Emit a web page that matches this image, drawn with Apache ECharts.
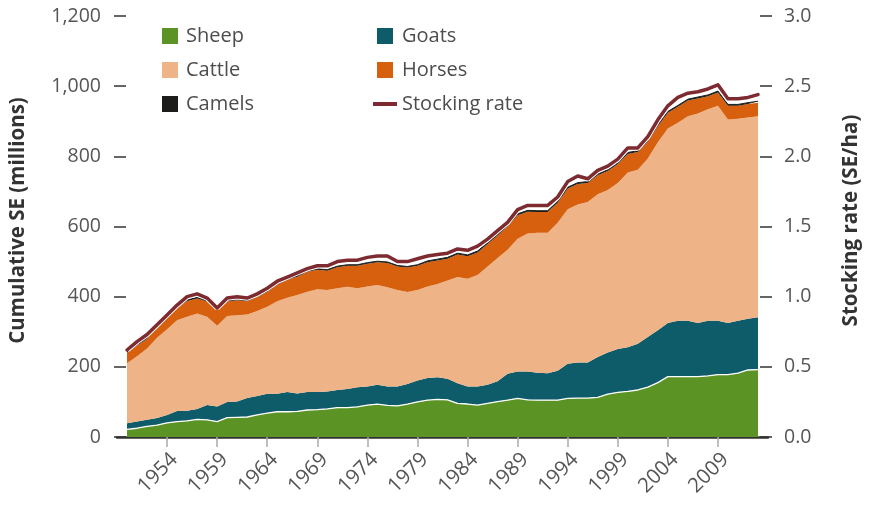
<!DOCTYPE html>
<html>
<head>
<meta charset="utf-8">
<script src="https://cdn.jsdelivr.net/npm/echarts@6/dist/echarts.min.js"></script>
<style>
  html, body { margin: 0; padding: 0; background: #fff; }
  #chart { width: 870px; height: 508px; }
</style>
</head>
<body>
<div id="chart"></div>
<script>
// axis years: one empty year on each side of the 1950 - 2013 data
const years = []
for (let y = 1949; y <= 2014; y++) years.push(String(y))

// livestock in millions of sheep equivalents, 1950 - 2013
const sheep = [22, 25, 30, 34, 40, 44, 46, 50, 49, 44, 55, 56, 57, 63, 68, 72, 72, 73, 77, 78,
  80, 84, 84, 86, 91, 94, 90, 89, 94, 100, 105, 107, 106, 96, 94, 91, 96, 101, 105, 110,
  106, 105, 105, 105, 110, 111, 111, 113, 122, 127, 130, 134, 142, 155, 172, 172, 172, 172, 174, 178,
  178, 182, 191, 192]
const goats = [17, 19, 19, 20, 23, 30, 29, 30, 42, 43, 45, 45, 54, 54, 55, 51, 56, 51, 51, 50,
  50, 50, 53, 56, 53, 55, 54, 55, 57, 61, 63, 63, 60, 57, 50, 53, 53, 58, 75, 77,
  81, 78, 77, 84, 99, 101, 101, 115, 119, 124, 126, 132, 143, 149, 153, 159, 159, 153, 157, 153,
  147, 149, 146, 149]
const cattle = [171, 186, 203, 229, 244, 259, 268, 272, 252, 230, 245, 246, 238, 242, 248, 264, 269, 281, 286, 293,
  289, 290, 291, 282, 285, 284, 283, 275, 262, 258, 261, 266, 280, 303, 307, 318, 337, 351, 354, 378,
  393, 399, 400, 422, 440, 451, 458, 464, 463, 473, 498, 496, 509, 536, 554, 565, 583, 597, 603, 613,
  580, 576, 574, 573]
const horses = [30, 31, 28, 31, 34, 35, 45, 43, 43, 47, 41, 43, 38, 41, 42, 48, 51, 52, 57, 56,
  55, 60, 60, 64, 65, 65, 69, 67, 70, 69, 69, 67, 62, 64, 64, 64, 64, 64, 67, 67,
  62, 59, 59, 57, 59, 58, 54, 54, 54, 54, 53, 50, 48, 46, 45, 45, 45, 43, 37, 38,
  39, 37, 38, 39]
const camels = [3, 3, 3, 3, 3, 3, 3, 3, 3, 3, 3, 3, 3, 3, 3, 3, 3, 3, 3, 3,
  3, 3, 3, 3, 3, 3, 3, 3, 3, 3, 4, 4, 4, 4, 4, 4, 4, 4, 4, 4,
  4, 4, 4, 4, 4, 4, 4, 4, 4, 4, 4, 4, 4, 4, 4, 4, 4, 4, 4, 4,
  4, 4, 4, 4]
// stocking rate, SE per ha
const rate = [0.62, 0.68, 0.73, 0.80, 0.87, 0.94, 1.00, 1.02, 0.99, 0.92, 0.99, 1.00, 0.99, 1.02, 1.06, 1.11, 1.14, 1.17, 1.20, 1.22,
  1.22, 1.25, 1.26, 1.26, 1.28, 1.29, 1.29, 1.25, 1.25, 1.27, 1.29, 1.30, 1.31, 1.34, 1.33, 1.36, 1.41, 1.47, 1.53, 1.62,
  1.65, 1.65, 1.65, 1.71, 1.82, 1.86, 1.84, 1.90, 1.93, 1.98, 2.06, 2.06, 2.14, 2.26, 2.36, 2.42, 2.45, 2.46, 2.48, 2.51,
  2.41, 2.41, 2.42, 2.44]

// labelled years: 1954, 1959, ... 2009
const showYear = (i, v) => Number(v) % 5 === 4 && Number(v) >= 1954 && Number(v) <= 2009

const font = 'Open Sans'
const txt = '#4d4d4d'
const square = 'path://M0,0h10v10h-10z'
const bar = 'path://M0,0h24v4h-24z'

// pad with the empty first and last axis year
const pad = arr => [null].concat(arr, [null])

function area(name, data, color, z, line) {
  return {
    name: name,
    type: 'line',
    stack: 'se',
    data: pad(data),
    symbol: 'none',
    z: z,
    itemStyle: {color: color},
    lineStyle: line || {width: 0},
    areaStyle: {color: color, opacity: 1}
  }
}

const chart = echarts.init(document.getElementById('chart'), null, {renderer: 'canvas'})

chart.setOption({
  animation: false,
  textStyle: {fontFamily: font},
  grid: {left: 116, right: 94, top: 16, bottom: 71},
  legend: [
    {
      left: 162, top: 26, orient: 'vertical', itemGap: 14, padding: 0,
      itemWidth: 16, itemHeight: 16, icon: square,
      textStyle: {fontSize: 20, color: txt, fontFamily: font, padding: [0, 0, 0, 3]},
      data: ['Sheep', 'Cattle', 'Camels']
    },
    {
      left: 373, top: 26, orient: 'vertical', itemGap: 14, padding: 0,
      itemWidth: 24, itemHeight: 16,
      textStyle: {fontSize: 20, color: txt, fontFamily: font},
      data: [
        {name: 'Goats', icon: square},
        {name: 'Horses', icon: square},
        {name: 'Stocking rate', icon: bar}
      ]
    }
  ],
  xAxis: {
    type: 'category',
    data: years,
    boundaryGap: false,
    axisLine: {lineStyle: {color: '#333', width: 2.5}},
    axisTick: {show: true, interval: showYear, length: 10, lineStyle: {color: '#aaa', width: 1.5}},
    axisLabel: {
      interval: showYear, rotate: 45, margin: 12, verticalAlign: 'top',
      fontSize: 20.5, color: '#555', fontFamily: font
    }
  },
  yAxis: [
    {
      type: 'value', min: 0, max: 1200, interval: 200, offset: -9,
      name: 'Cumulative SE (millions)', nameLocation: 'middle', nameRotate: 90, nameGap: 97,
      nameTextStyle: {fontSize: 20.5, fontWeight: 'bold', color: '#333', fontFamily: font, padding: [0, 0, 0, 12]},
      splitLine: {show: false},
      axisLine: {show: false},
      axisTick: {show: true, length: 12, lineStyle: {color: '#333', width: 1.5}},
      axisLabel: {
        margin: 25, fontSize: 19.5, color: '#555', fontFamily: font,
        formatter: v => v.toLocaleString('en-US')
      }
    },
    {
      type: 'value', min: 0, max: 3, interval: 0.5, offset: -8, position: 'right',
      name: 'Stocking rate (SE/ha)', nameLocation: 'middle', nameRotate: 90, nameGap: 81,
      nameTextStyle: {fontSize: 20.5, fontWeight: 'bold', color: '#333', fontFamily: font, padding: [0, 0, 0, 12]},
      splitLine: {show: false},
      axisLine: {show: false},
      axisTick: {show: true, length: 12, lineStyle: {color: '#333', width: 1.5}},
      axisLabel: {
        margin: 24, fontSize: 19.5, color: '#555', fontFamily: font,
        formatter: v => v.toFixed(1)
      }
    }
  ],
  series: [
    area('Sheep', sheep, '#5b9425', 3, {color: '#fff', width: 1.3}),
    area('Goats', goats, '#0e5b69', 2),
    area('Cattle', cattle, '#eeb387', 2),
    area('Horses', horses, '#d6600e', 2),
    area('Camels', camels, '#1d1d1b', 2, {color: '#1d1d1b', width: 1}),
    {
      name: 'halo',
      type: 'line',
      yAxisIndex: 1,
      data: pad(rate),
      symbol: 'none',
      silent: true,
      z: 4,
      lineStyle: {color: '#fff', width: 5.5}
    },
    {
      name: 'Stocking rate',
      type: 'line',
      yAxisIndex: 1,
      data: pad(rate),
      symbol: 'none',
      z: 5,
      itemStyle: {color: '#7d2b30'},
      lineStyle: {color: '#7d2b30', width: 3.5, cap: 'round', join: 'round'}
    }
  ]
})
</script>
</body>
</html>
